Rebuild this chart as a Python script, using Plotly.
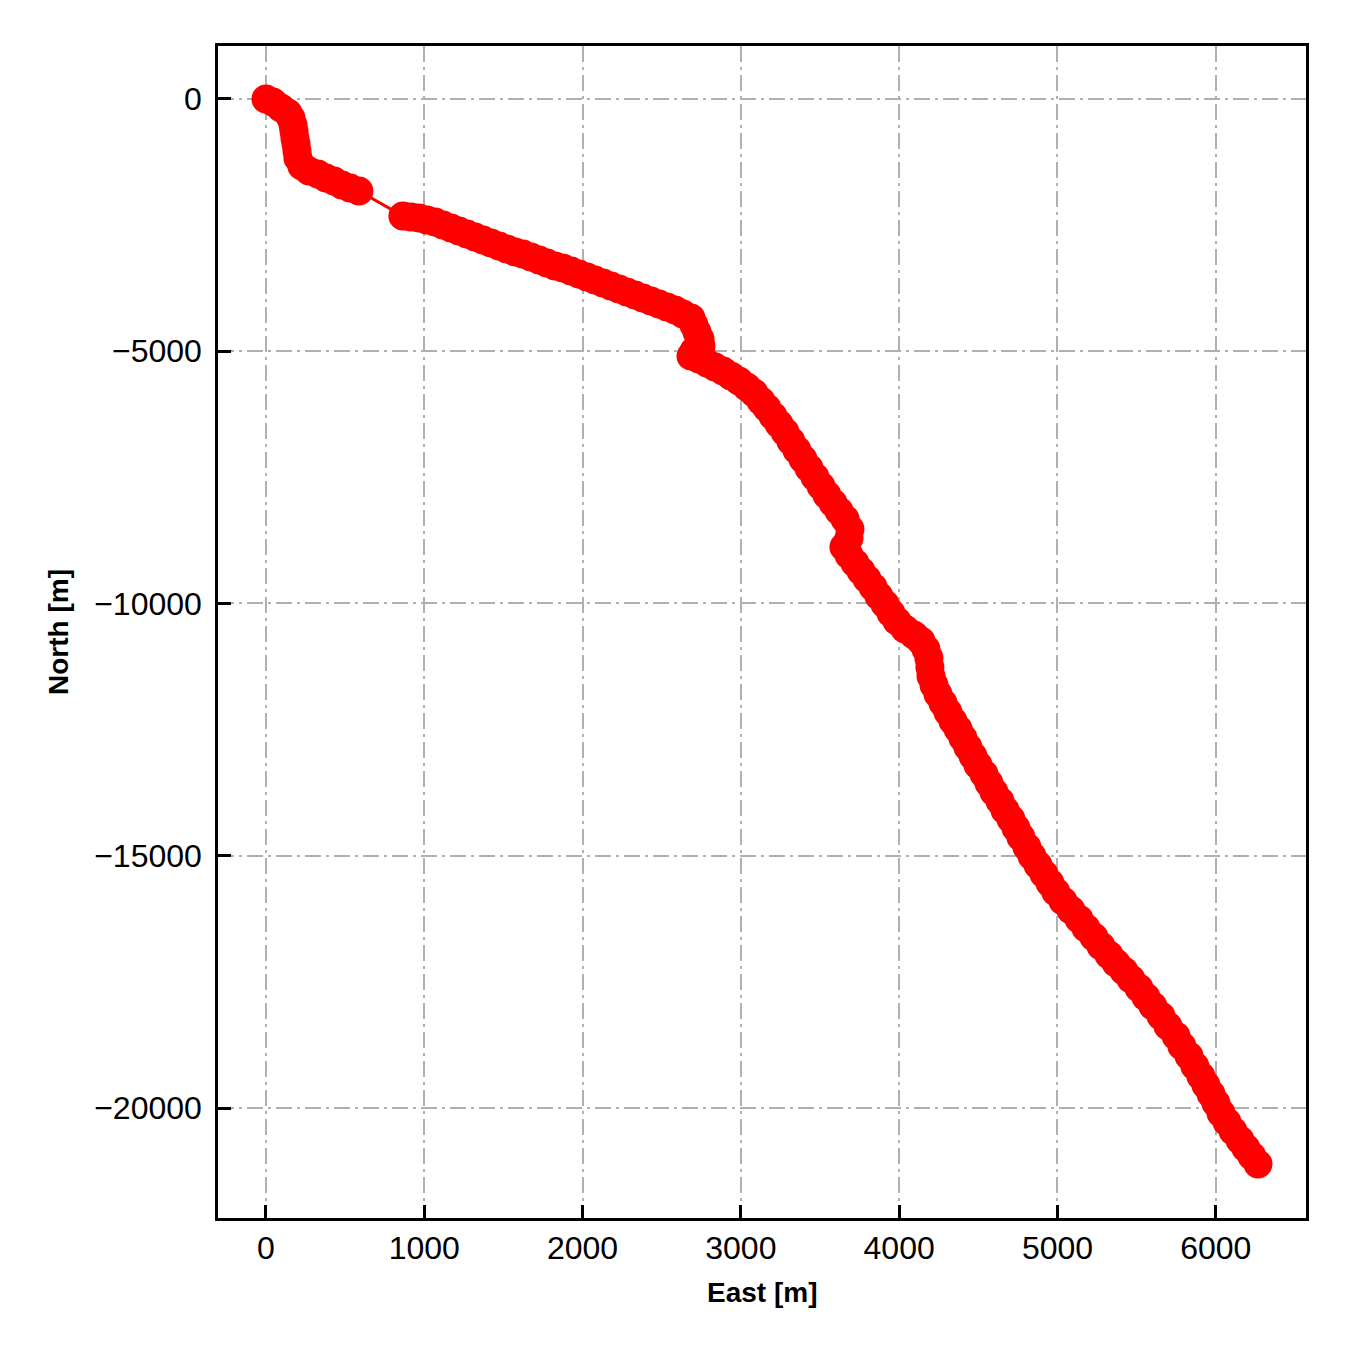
import plotly.graph_objects as go

# trajectory (East, North in metres)
EAST = [0, 44, 95, 139, 158, 171, 177, 183, 190, 196, 202, 227, 272, 328, 379, 430, 480, 531, 587,
        865, 916, 967, 1017, 1068, 1118, 1169, 1219, 1270, 1320, 1371, 1421, 1472, 1522, 1573,
        1623, 1674, 1725, 1775, 1826, 1876, 1927, 1977, 2028, 2078, 2129, 2179, 2230, 2280,
        2331, 2381, 2432, 2483, 2533, 2584, 2634, 2685, 2704, 2723, 2742, 2748, 2704, 2685,
        2735, 2786, 2836, 2887, 2937, 2988, 3038, 3083, 3127, 3165, 3203, 3241, 3279, 3316,
        3354, 3392, 3430, 3468, 3506, 3544, 3582, 3620, 3658, 3689, 3683, 3651, 3683, 3721,
        3759, 3797, 3835, 3872, 3910, 3948, 3986, 4037, 4093, 4138, 4169, 4188, 4194, 4201,
        4220, 4245, 4277, 4308, 4340, 4372, 4403, 4434, 4466, 4498, 4536, 4567, 4599, 4637,
        4668, 4706, 4738, 4769, 4807, 4839, 4877, 4915, 4953, 4990, 5035, 5085, 5136, 5180,
        5230, 5275, 5326, 5370, 5420, 5464, 5515, 5559, 5603, 5654, 5698, 5749, 5786, 5831,
        5868, 5906, 5938, 5970, 6001, 6033, 6071, 6109, 6153, 6190, 6228, 6267]
NORTH = [0, -59, -178, -277, -377, -515, -634, -773, -892, -1031, -1169, -1328, -1427, -1487,
         -1566, -1625, -1705, -1764, -1823,
         -2319, -2339, -2359, -2398, -2438, -2497, -2557, -2616, -2676, -2735, -2795, -2854,
         -2914, -2973, -3032, -3072, -3132, -3191, -3250, -3310, -3350, -3409, -3469, -3528,
         -3587, -3647, -3706, -3766, -3825, -3885, -3944, -4004, -4063, -4123, -4182, -4261,
         -4340, -4479, -4618, -4757, -4896, -4995, -5094,
         -5153, -5232, -5312, -5391, -5490, -5589, -5708, -5827, -5986, -6124, -6283, -6442,
         -6600, -6778, -6957, -7135, -7314, -7492, -7670, -7849, -8007, -8166, -8324, -8523,
         -8702, -8879, -9038, -9196, -9355, -9514, -9672, -9851, -10009, -10187, -10346, -10505,
         -10624, -10743, -10901, -11080, -11258, -11437, -11615, -11793, -11971, -12150, -12328,
         -12487, -12665, -12843, -13022, -13200, -13379, -13557, -13735, -13914, -14092, -14270,
         -14449, -14627, -14825, -15004, -15182, -15361, -15539, -15717, -15896, -16074, -16252,
         -16431, -16609, -16788, -16966, -17125, -17283, -17442, -17620, -17798, -17977, -18175,
         -18375, -18571, -18769, -18968, -19166, -19364, -19543, -19721, -19899, -20097, -20276,
         -20454, -20632, -20791, -20950, -21108]

X_TICKS = [0, 1000, 2000, 3000, 4000, 5000, 6000]
Y_TICKS = [0, -5000, -10000, -15000, -20000]

FONT = "Liberation Sans, Arial, sans-serif"
GRID = "#b0b0b0"

fig = go.Figure()
fig.add_trace(go.Scatter(x=EAST, y=NORTH, mode="lines+markers",
                         line=dict(color="#ff0000", width=3),
                         marker=dict(color="#ff0000", size=29, line=dict(width=0)),
                         showlegend=False))

axis_common = dict(showline=True, linecolor="black", linewidth=2.5, mirror=True,
                   ticks="inside", ticklen=13, tickwidth=2.5, tickcolor="black",
                   showgrid=True, gridcolor=GRID, gridwidth=2, griddash="16px,5px,3px,5px",
                   zeroline=False, tickfont=dict(family=FONT, size=32, color="black"))

fig.update_xaxes(range=[-303, 6570], tickvals=X_TICKS,
                 ticktext=[str(v) for v in X_TICKS], **axis_common)
fig.update_yaxes(range=[-22180, 1050], tickvals=Y_TICKS, ticklabelstandoff=7,
                 ticktext=[str(v).replace("-", "\u2212") for v in Y_TICKS], **axis_common)

# axis titles placed as annotations to match the reference spacing
fig.add_annotation(text="<b>East [m]</b>", xref="paper", yref="paper", x=0.5, y=0,
                   yanchor="middle", yshift=-74, showarrow=False,
                   font=dict(family=FONT, size=28, color="black"))
fig.add_annotation(text="<b>North [m]</b>", xref="paper", yref="paper", x=0, y=0.5,
                   xanchor="center", xshift=-160, textangle=-90, showarrow=False,
                   font=dict(family=FONT, size=28, color="black"))

fig.update_layout(width=1350, height=1350,
                  margin=dict(l=210, r=52, t=38, b=140),
                  paper_bgcolor="white", plot_bgcolor="white")

fig.write_html("out.html")
